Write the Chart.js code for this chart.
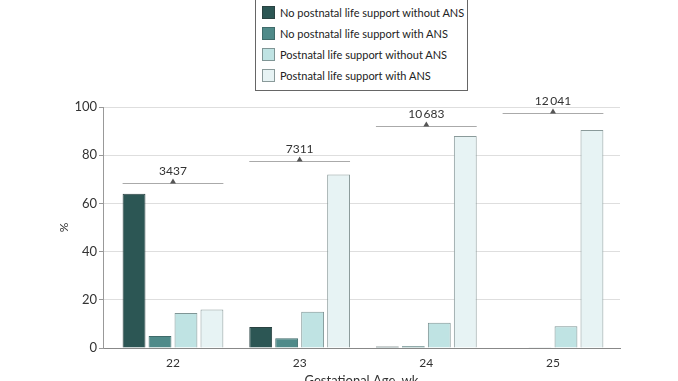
<!DOCTYPE html>
<html>
<head>
<meta charset="utf-8">
<script src="https://cdn.jsdelivr.net/npm/chart.js@4/dist/chart.umd.min.js"></script>
<style>
  html, body { margin:0; padding:0; background:#fff; overflow:hidden; width:678px; height:381px; }
  #wrap { position:relative; width:678px; height:389px; }
  #legend { position:absolute; left:255px; top:-2px; width:213px; height:93px; border:1px solid #666; box-sizing:border-box; background:#fff;
    font-family:"Lato",sans-serif; font-size:11px; color:#222; }
  .li { position:absolute; left:6px; height:14px; line-height:14px; white-space:nowrap; }
  .sw { display:inline-block; width:13px; height:13px; box-sizing:border-box; border:1px solid #777; vertical-align:top; margin-right:5px; }
</style>
</head>
<body>
<div id="wrap">
  <canvas id="c" width="678" height="389"></canvas>
  <div id="legend"></div>
</div>
<script>
const categories = ["22", "23", "24", "25"];
const seriesNames = [
  "No postnatal life support without ANS",
  "No postnatal life support with ANS",
  "Postnatal life support without ANS",
  "Postnatal life support with ANS"
];
const noSupportNoANS   = [64, 8.7, 0.6, 0];
const noSupportANS     = [5, 4, 0.7, 0.3];
const supportNoANS     = [14.5, 15, 10.5, 9];
const supportANS       = [16, 72, 88, 90.5];
const totals           = ["3437", "7311", "10\u2009683", "12\u2009041"];
const totalLevels      = [68.5, 77.5, 92, 97.5];
const yTicks           = [0, 20, 40, 60, 80, 100];
const colors = ["#2c5654", "#4f8a89", "#bfe3e3", "#e7f3f4"];
const borders = ["#2a4241", "#3f6b6a", "#7f9595", "#8a9a9a"];

const seriesValues = [noSupportNoANS, noSupportANS, supportNoANS, supportANS];

// HTML legend
const leg = document.getElementById('legend');
seriesNames.forEach((n, i) => {
  const d = document.createElement('div');
  d.className = 'li';
  d.style.top = (7 + i * 21) + 'px';
  d.innerHTML = '<span class="sw" style="background:' + colors[i] + ';border-color:' + borders[i] + '"></span>' + n;
  leg.appendChild(d);
});

const bracketPlugin = {
  id: 'brackets',
  afterDatasetsDraw(chart) {
    const ctx = chart.ctx;
    const y = chart.scales.y;
    const first = chart.getDatasetMeta(0);
    const last = chart.getDatasetMeta(chart.data.datasets.length - 1);
    ctx.save();
    categories.forEach((c, i) => {
      const b0 = first.data[i], b1 = last.data[i];
      const x0 = b0.x - b0.width / 2, x1 = b1.x + b1.width / 2;
      const xc = (x0 + x1) / 2;
      const yy = Math.round(y.getPixelForValue(totalLevels[i])) + 0.5;
      ctx.strokeStyle = '#aaa';
      ctx.lineWidth = 1.2;
      ctx.beginPath(); ctx.moveTo(x0, yy); ctx.lineTo(x1, yy); ctx.stroke();
      ctx.fillStyle = '#555';
      ctx.beginPath(); ctx.moveTo(xc - 3, yy); ctx.lineTo(xc + 3, yy); ctx.lineTo(xc, yy - 5); ctx.closePath(); ctx.fill();
      ctx.fillStyle = '#333';
      ctx.font = '12px Lato, sans-serif';
      ctx.textAlign = 'center';
      ctx.textBaseline = 'alphabetic';
      ctx.fillText(totals[i], xc, yy - 9);
    });
    ctx.restore();
  }
};

new Chart(document.getElementById('c'), {
  type: 'bar',
  data: {
    datasets: seriesValues.map((v, i) => ({
      label: seriesNames[i],
      data: v.map((val, k) => ({ x: k, y: val })),
      backgroundColor: colors[i],
      borderColor: borders[i],
      borderWidth: 1,
      barPercentage: 0.88,
      categoryPercentage: 0.82
    }))
  },
  options: {
    responsive: false,
    animation: false,
    layout: { padding: { top: 107, left: 57, right: 58, bottom: 0 } },
    plugins: { legend: { display: false }, tooltip: { enabled: false } },
    scales: {
      x: {
        type: 'linear',
        offset: false,
        min: -0.5525, max: 3.529,
        afterBuildTicks(s) { s.ticks = categories.map((c, k) => ({ value: k })); },
        grid: { display: false, offset: false },
        border: { color: '#888' },
        ticks: { color: '#333', font: { family: 'Lato, sans-serif', size: 12 }, padding: 0,
          callback: (v) => categories[v] },
        title: { display: true, text: 'Gestational Age, wk', color: '#333', font: { family: 'Lato, sans-serif', size: 13 }, padding: { top: 4, bottom: 0 } },
        afterFit(s) { s.height = 41; }
      },
      y: {
        min: 0, max: 100,
        afterBuildTicks(s) { s.ticks = yTicks.map(v => ({ value: v })); },
        grid: { color: '#dedede', tickColor: '#999', tickLength: 4 },
        border: { color: '#999' },
        ticks: { color: '#333', font: { family: 'Lato, sans-serif', size: 13 }, padding: 2 },
        title: { display: true, text: '%', color: '#333', font: { family: 'Lato, sans-serif', size: 12 }, padding: 0 },
        afterFit(s) { s.width = 46; }
      }
    }
  },
  plugins: [bracketPlugin]
});
</script>
</body>
</html>
